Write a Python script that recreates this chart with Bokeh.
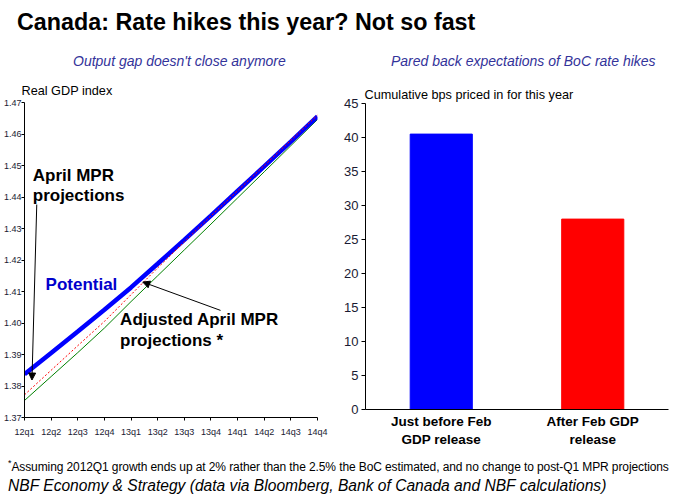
from bokeh.plotting import figure
from bokeh.models import (Title, Label, Arrow, NormalHead, FixedTicker, Range1d,
                          FactorRange, Div, ColumnDataSource, PrintfTickFormatter)
from bokeh.layouts import column, row
from bokeh.embed import file_html
from bokeh.resources import INLINE

# ---------------- data ----------------
quarters = ["12q1", "12q2", "12q3", "12q4", "13q1", "13q2",
            "13q3", "13q4", "14q1", "14q2", "14q3", "14q4"]
potential = [1.3837, 1.3905, 1.3973, 1.4042, 1.4113, 1.4188,
             1.4264, 1.4341, 1.4419, 1.4497, 1.4576, 1.4656]
april_mpr = [1.3772, 1.3850, 1.3928, 1.4005, 1.4090, 1.4175,
             1.4258, 1.4340, 1.4420, 1.4500, 1.4580, 1.4660]
adjusted_mpr = [1.3754, 1.3830, 1.3906, 1.3984, 1.4068, 1.4150,
                1.4232, 1.4314, 1.4397, 1.4480, 1.4563, 1.4646]
y_ticks_left = [1.37, 1.38, 1.39, 1.40, 1.41, 1.42, 1.43, 1.44, 1.45, 1.46, 1.47]

bar_labels = ["Just before Feb\nGDP release", "After Feb GDP\nrelease"]
bps_priced = [40.5, 28.0]
bar_colors = ["#0000ff", "#ff0000"]
y_ticks_right = [0, 5, 10, 15, 20, 25, 30, 35, 40, 45]

NARROW = "'Liberation Sans Narrow', 'Arial Narrow', 'Liberation Sans', sans-serif"
SANS = "'Liberation Sans', Arial, sans-serif"
SUB_COLOR = "#33339a"
TICK_COLOR = "#1a1a33"

# ---------------- left panel ----------------
x_idx = list(range(len(quarters)))
src = ColumnDataSource(dict(x=x_idx, pot=potential, apr=april_mpr, adj=adjusted_mpr))

p1 = figure(width=340, height=378, x_range=Range1d(0, len(quarters) - 1),
            y_range=Range1d(1.37, 1.47), output_backend="svg", toolbar_location=None,
            min_border_left=22, min_border_right=23, min_border_bottom=35,
            min_border_top=28, outline_line_color=None, background_fill_color="white")
p1.title.text = "Real GDP index"
p1.title.text_font = SANS
p1.title.text_font_style = "normal"
p1.title.text_font_size = "12.7px"
p1.title.text_color = "black"
p1.title.align = "left"
p1.title.offset = -3
p1.title.standoff = 10

p1.line("x", "adj", source=src, color="#008000", line_width=1)
p1.line("x", "pot", source=src, color="#0000ff", line_width=4.5)
p1.line("x", "apr", source=src, color="#ff0000", line_width=1, line_dash="2 2")

p1.grid.visible = False
p1.xaxis.ticker = FixedTicker(ticks=x_idx)
p1.xaxis.major_label_overrides = {i: q for i, q in enumerate(quarters)}
p1.yaxis.ticker = FixedTicker(ticks=y_ticks_left)
p1.yaxis.formatter = PrintfTickFormatter(format="%.2f")
for ax in (p1.xaxis, p1.yaxis):
    ax.major_label_text_font = NARROW
    ax.major_label_text_font_size = "9px"
    ax.major_label_text_color = TICK_COLOR
    ax.major_tick_in = 0
    ax.major_tick_out = 3
    ax.minor_tick_line_color = None
    ax.axis_line_color = "black"
    ax.major_tick_line_color = "black"
p1.yaxis.major_label_standoff = 0
p1.xaxis.major_label_standoff = 6

BOLD = dict(text_font=SANS, text_font_style="bold", text_font_size="17px",
            text_baseline="middle")
p1.add_layout(Label(x=0.31, y=1.4468, text="April MPR", text_color="black", **BOLD))
p1.add_layout(Label(x=0.31, y=1.4406, text="projections", text_color="black", **BOLD))
p1.add_layout(Label(x=0.79, y=1.4122, text="Potential", text_color="#0000cc", **BOLD))
p1.add_layout(Label(x=3.59, y=1.4010, text="Adjusted April MPR", text_color="black", **BOLD))
p1.add_layout(Label(x=3.59, y=1.3943, text="projections *", text_color="black", **BOLD))

p1.add_layout(Arrow(end=NormalHead(size=7, fill_color="black", line_color="black"),
                    x_start=0.46, y_start=1.4376, x_end=0.28, y_end=1.3819,
                    line_color="black", line_width=1))
p1.add_layout(Arrow(end=NormalHead(size=7, fill_color="black", line_color="black"),
                    x_start=7.36, y_start=1.4040, x_end=4.44, y_end=1.4130,
                    line_color="black", line_width=1))

# ---------------- right panel ----------------
p2 = figure(width=333, height=378, x_range=FactorRange(*bar_labels),
            y_range=Range1d(0, 45), output_backend="svg", toolbar_location=None,
            min_border_left=25, min_border_right=5, min_border_bottom=43,
            min_border_top=29, outline_line_color=None, background_fill_color="white")
p2.title.text = "Cumulative bps priced in for this year"
p2.title.text_font = SANS
p2.title.text_font_style = "normal"
p2.title.text_font_size = "12.7px"
p2.title.text_color = "black"
p2.title.align = "left"
p2.title.offset = -1
p2.title.standoff = 3

bsrc = ColumnDataSource(dict(x=bar_labels, top=bps_priced, color=bar_colors))
p2.vbar(x="x", top="top", width=0.41, color="color", source=bsrc)

p2.grid.visible = False
p2.yaxis.ticker = FixedTicker(ticks=y_ticks_right)
p2.yaxis.major_label_text_font = NARROW
p2.yaxis.major_label_text_font_size = "13px"
p2.yaxis.major_label_text_color = TICK_COLOR
p2.xaxis.major_label_text_font = SANS
p2.xaxis.major_label_text_font_style = "bold"
p2.xaxis.major_label_text_font_size = "13.5px"
p2.xaxis.major_label_text_color = "black"
for ax in (p2.xaxis, p2.yaxis):
    ax.major_tick_in = 0
    ax.minor_tick_line_color = None
    ax.axis_line_color = "black"
p2.yaxis.major_tick_out = 4
p2.yaxis.major_label_standoff = 3
p2.xaxis.major_tick_line_color = None
p2.xaxis.major_tick_out = 0
p2.xaxis.major_label_standoff = 4

# ---------------- page ----------------
title_div = Div(
    text="<div style=\"font-family:'Liberation Sans',Arial,sans-serif;font-weight:bold;"
         "font-size:23.3px;color:black;padding-left:17px;line-height:44px;"
         "white-space:nowrap\">Canada: Rate hikes this year? Not so fast</div>",
    width=673, height=44, margin=0)

SUB_STYLE = ("font-family:'Liberation Sans Narrow','Arial Narrow','Liberation Sans',sans-serif;"
             "font-style:italic;font-size:14px;color:%s;line-height:34px;white-space:nowrap;" % SUB_COLOR)
sub_left = Div(text="<div style=\"%spadding-left:73px\">Output gap doesn't close anymore</div>" % SUB_STYLE,
               width=340, height=30, margin=0)
sub_right = Div(text="<div style=\"%spadding-left:51px\">Pared back expectations of BoC rate hikes</div>" % SUB_STYLE,
                width=333, height=30, margin=0)

foot_div = Div(
    text="<div style=\"font-family:'Liberation Sans Narrow','Arial Narrow','Liberation Sans',sans-serif;"
         "font-size:12px;letter-spacing:-0.1px;color:black;padding-left:8px;padding-top:4px;"
         "line-height:14px;white-space:nowrap\"><sup style='font-size:9px'>*</sup>Assuming 2012Q1 "
         "growth ends up at 2% rather than the 2.5% the BoC estimated, and no change to post-Q1 "
         "MPR projections</div>"
         "<div style=\"font-family:'Liberation Sans',Arial,sans-serif;font-style:italic;"
         "font-size:15.6px;color:black;padding-left:8px;line-height:24px;white-space:nowrap\">"
         "NBF Economy &amp; Strategy (data via Bloomberg, Bank of Canada and NBF calculations)</div>",
    width=673, height=47, margin=0)

layout = column(title_div,
                row(sub_left, sub_right, spacing=0),
                row(column(p1), column(p2), spacing=0),
                foot_div, spacing=0)

open("out.html", "w").write(file_html(layout, INLINE))
